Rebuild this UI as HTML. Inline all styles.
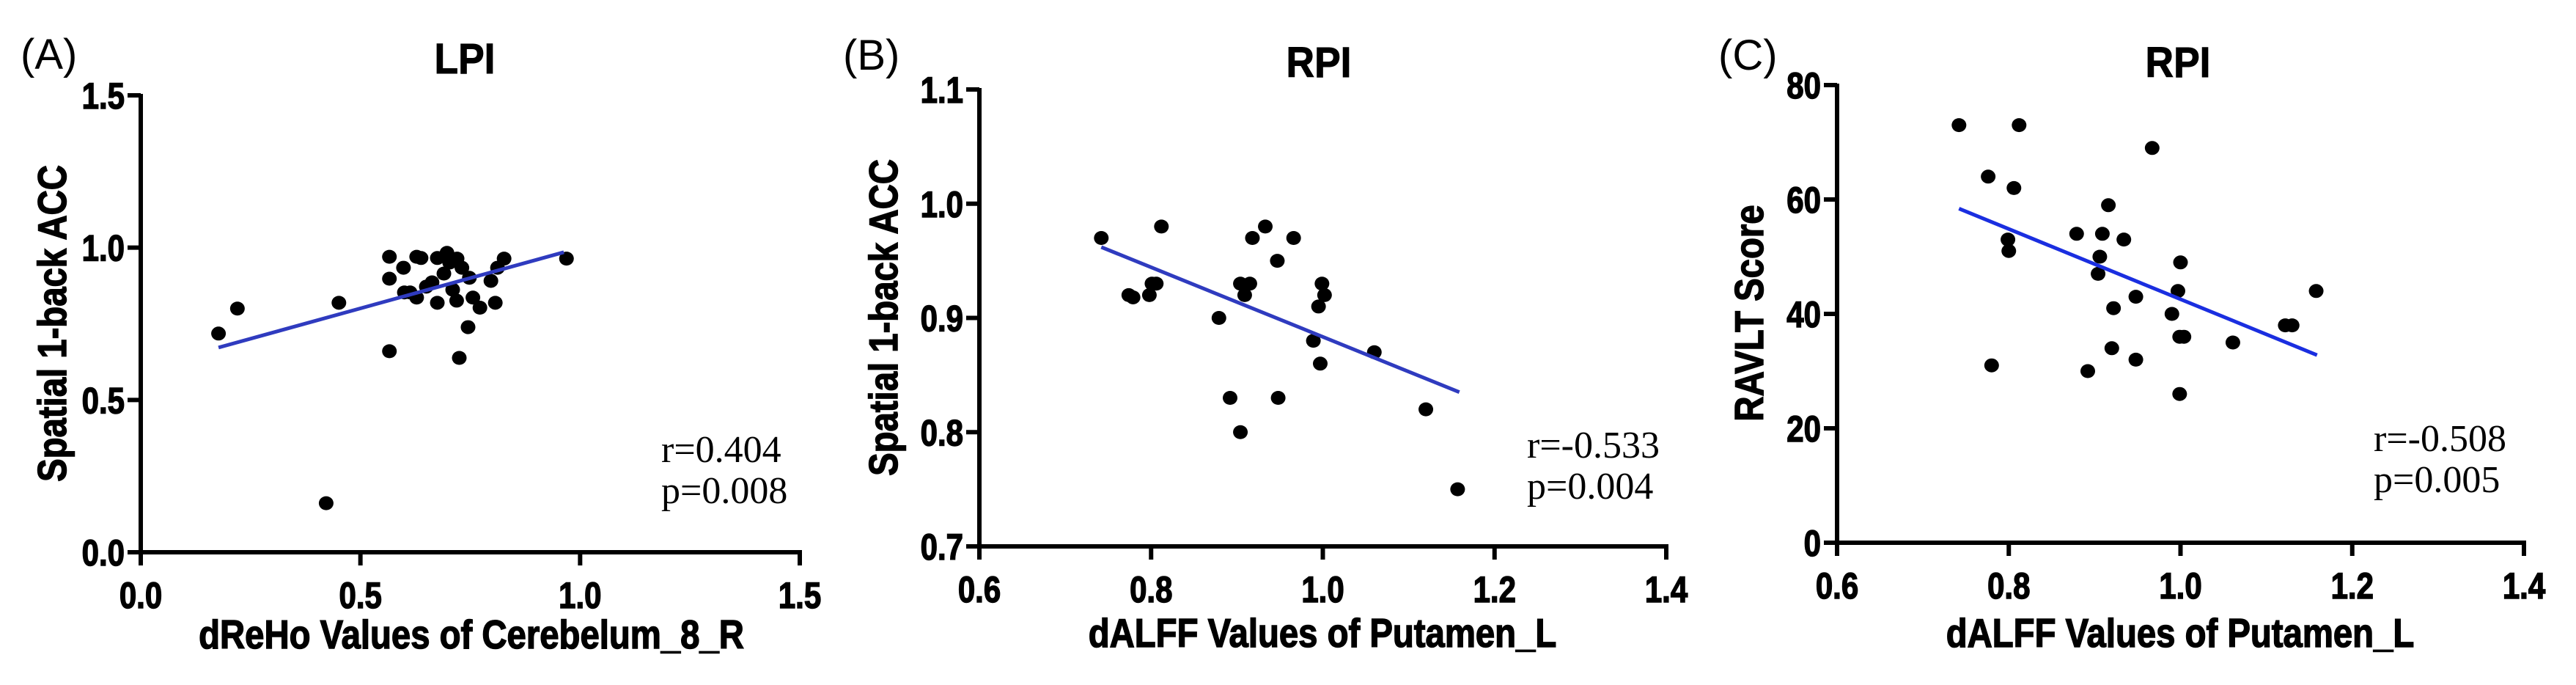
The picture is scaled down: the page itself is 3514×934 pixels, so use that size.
<!DOCTYPE html>
<html><head><meta charset="utf-8">
<style>
html,body{margin:0;padding:0;background:#fff;}
svg{display:block;}
</style></head>
<body>
<svg id="fig" width="3514" height="934" viewBox="0 0 3514 934" xmlns="http://www.w3.org/2000/svg"></svg>
<script>
// ---- Panel A data ----
const aX = [0.177,0.22,0.451,0.422,0.566,0.566,0.566,0.598,0.60,0.613,0.628,0.628,0.638,0.65,0.663,0.675,0.675,0.69,0.697,0.703,0.71,0.719,0.72,0.731,0.725,0.745,0.748,0.756,0.772,0.797,0.807,0.812,0.827,0.969];
const aY = [0.718,0.80,0.819,0.161,0.97,0.898,0.66,0.934,0.853,0.853,0.836,0.97,0.966,0.872,0.886,0.819,0.966,0.915,0.983,0.951,0.862,0.826,0.964,0.934,0.638,0.739,0.901,0.836,0.803,0.891,0.819,0.934,0.964,0.964];
const aFitX = [0.177,0.963];
const aFitY = [0.672,0.985];
const aXTicks = [0.0,0.5,1.0,1.5];
const aYTicks = [0.0,0.5,1.0,1.5];
const aXTickLabels = ["0.0","0.5","1.0","1.5"];
const aYTickLabels = ["0.0","0.5","1.0","1.5"];
// ---- Panel B data ----
const bX = [0.742,0.812,0.774,0.779,0.798,0.801,0.806,0.879,0.892,0.904,0.904,0.909,0.915,0.918,0.933,0.947,0.948,0.966,0.989,0.995,0.999,1.002,0.997,1.06,1.12,1.157];
const bY = [0.97,0.98,0.92,0.918,0.92,0.93,0.93,0.90,0.83,0.80,0.93,0.92,0.93,0.97,0.98,0.95,0.83,0.97,0.88,0.91,0.93,0.92,0.86,0.87,0.82,0.75];
const bFitX = [0.742,1.159];
const bFitY = [0.962,0.835];
const bXTicks = [0.6,0.8,1.0,1.2,1.4];
const bYTicks = [0.7,0.8,0.9,1.0,1.1];
const bXTickLabels = ["0.6","0.8","1.0","1.2","1.4"];
const bYTickLabels = ["0.7","0.8","0.9","1.0","1.1"];
// ---- Panel C data ----
const cX = [0.742,0.812,0.776,0.806,0.78,0.799,0.80,0.879,0.892,0.904,0.906,0.909,0.916,0.922,0.92,0.934,0.948,0.948,0.967,0.99,0.997,1.0,0.999,1.004,0.999,1.061,1.122,1.13,1.158];
const cY = [73,73,64,62,31,53,51,54,30,47,50,54,59,41,34,53,43,32,69,40,44,49,36,36,26,35,38,38,44];
const cFitX = [0.742,1.159];
const cFitY = [58.4,32.8];
const cXTicks = [0.6,0.8,1.0,1.2,1.4];
const cYTicks = [0,20,40,60,80];
const cXTickLabels = ["0.6","0.8","1.0","1.2","1.4"];
const cYTickLabels = ["0","20","40","60","80"];

const NS = "http://www.w3.org/2000/svg";
const svg = document.getElementById('fig');
function mk(tag, attrs, parent){
  const e = document.createElementNS(NS, tag);
  for (const k in attrs) e.setAttribute(k, attrs[k]);
  (parent||svg).appendChild(e);
  return e;
}
function txt(parent, s, x, y, size, opts){
  const a = {x:0, y:0, 'font-size':size, 'font-family':opts.family||'"Liberation Sans", Arial, sans-serif', 'font-weight':opts.weight||'normal', 'text-anchor':opts.anchor||'start', fill:'#000',
    transform:`translate(${x},${y})${opts.rot?' rotate('+opts.rot+')':''} scale(${opts.sx||1},1)`};
  if (opts.heavy) { a.stroke = '#000'; a['stroke-width'] = opts.heavy; }
  const t = mk('text', a, parent);
  t.textContent = s;
  return t;
}

function panel(cfg){
  const g = mk('g', {});
  
  
  const sx = v => cfg.x0 + (v - cfg.xmin) / (cfg.xmax - cfg.xmin) * (cfg.x1 - cfg.x0);
  const sy = v => cfg.y0 - (v - cfg.ymin) / (cfg.ymax - cfg.ymin) * (cfg.y0 - cfg.y1);
  const L = txt(g, cfg.letter, cfg.lx, cfg.ly, 58, {});
  
  
  const T = txt(g, cfg.title, cfg.tx, cfg.ty, 58, {weight:'bold', anchor:'middle', sx:0.92, heavy:1});
  
  
  const ax = mk('path', {d:`M${cfg.x0},${cfg.y1-2} V${cfg.y0} H${cfg.x1+3}`, stroke:'#000', 'stroke-width':6, fill:'none', 'stroke-linejoin':'miter'}, g);
  
  
  cfg.yt.forEach((v,i)=>{
    const y = sy(v);
    const tk = mk('line', {x1:cfg.x0-18, x2:cfg.x0, y1:y, y2:y, stroke:'#000', 'stroke-width':6}, g);
    
    
    const tl = txt(g, cfg.ytl[i], cfg.x0-22, y+18, 50, {weight:'bold', anchor:'end', sx:0.84, heavy:1.5});
    
    
  });
  cfg.xt.forEach((v,i)=>{
    const x = sx(v);
    const tk = mk('line', {x1:x, x2:x, y1:cfg.y0, y2:cfg.y0+18, stroke:'#000', 'stroke-width':6}, g);
    
    
    const tl = txt(g, cfg.xtl[i], x, cfg.y0+76, 50, {weight:'bold', anchor:'middle', sx:0.84, heavy:1.5});
    
    
  });
  const xt = txt(g, cfg.xlab, cfg.xlx, cfg.xly, 55, {weight:'bold', anchor:'middle', sx:0.86, heavy:1.5});
  
  
  const yt = txt(g, cfg.ylab, cfg.ylx, cfg.yly, 55, {weight:'bold', anchor:'middle', rot:-90, sx:0.86, heavy:1.5});
  
  
  cfg.px.forEach((v,i)=>{
    const c = mk('ellipse', {cx:sx(v), cy:sy(cfg.py[i]), rx:10, ry:9.5, fill:'#000'}, g);
    
    
  });
  const fl = mk('line', {x1:sx(cfg.fx[0]), y1:sy(cfg.fy[0]), x2:sx(cfg.fx[1]), y2:sy(cfg.fy[1]), stroke:cfg.lineColor, 'stroke-width':5}, g);
  
  
  const r = txt(g, cfg.r, cfg.sx, cfg.sy, 52, {family:'"Liberation Serif", "Times New Roman", serif'});
  
  
  const p = txt(g, cfg.p, cfg.sx, cfg.sy+56, 52, {family:'"Liberation Serif", "Times New Roman", serif'});
  
  
}

panel({id:'a', letter:'(A)', lx:28, ly:94, title:'LPI', tx:634, ty:100,
  x0:192, x1:1091, y0:753, y1:130, xmin:0, xmax:1.5, ymin:0, ymax:1.5,
  xt:aXTicks, yt:aYTicks, xtl:aXTickLabels, ytl:aYTickLabels,
  xlab:'dReHo Values of Cerebelum_8_R', xlx:643, xly:884,
  ylab:'Spatial 1-back ACC', ylx:90, yly:441,
  px:aX, py:aY, fx:aFitX, fy:aFitY, lineColor:'#2f3bbf',
  r:'r=0.404', p:'p=0.008', sx:902, sy:630});

panel({id:'b', letter:'(B)', lx:1150, ly:95, title:'RPI', tx:1799, ty:105,
  x0:1336, x1:2273, y0:745, y1:122, xmin:0.6, xmax:1.4, ymin:0.7, ymax:1.1,
  xt:bXTicks, yt:bYTicks, xtl:bXTickLabels, ytl:bYTickLabels,
  xlab:'dALFF Values of Putamen_L', xlx:1804, xly:882,
  ylab:'Spatial 1-back ACC', ylx:1224, yly:433,
  px:bX, py:bY, fx:bFitX, fy:bFitY, lineColor:'#2f3bbf',
  r:'r=-0.533', p:'p=0.004', sx:2083, sy:624});

panel({id:'c', letter:'(C)', lx:2344, ly:95, title:'RPI', tx:2971, ty:105,
  x0:2506, x1:3443, y0:740, y1:116, xmin:0.6, xmax:1.4, ymin:0, ymax:80,
  xt:cXTicks, yt:cYTicks, xtl:cXTickLabels, ytl:cYTickLabels,
  xlab:'dALFF Values of Putamen_L', xlx:2974, xly:882,
  ylab:'RAVLT Score', ylx:2405, yly:427,
  px:cX, py:cY, fx:cFitX, fy:cFitY, lineColor:'#1a2ee0',
  r:'r=-0.508', p:'p=0.005', sx:3238, sy:615});
</script>
</body></html>
